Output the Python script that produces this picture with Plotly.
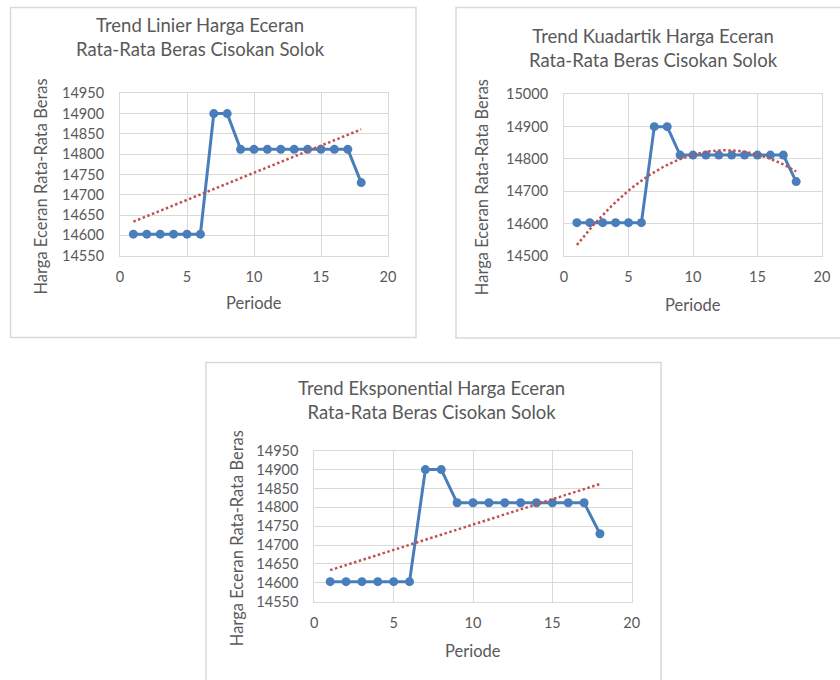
import numpy as np
import plotly.graph_objects as go

# ---------------- data ----------------
periode = list(range(1, 19))
harga = [14603, 14603, 14603, 14603, 14603, 14603, 14900, 14900,
         14812, 14812, 14812, 14812, 14812, 14812, 14812, 14812, 14812, 14730]

titles = [
    "Trend Linier Harga Eceran<br>Rata-Rata Beras Cisokan Solok",
    "Trend Kuadartik Harga Eceran<br>Rata-Rata Beras Cisokan Solok",
    "Trend Eksponential Harga Eceran<br>Rata-Rata Beras Cisokan Solok",
]
y_title = "Harga Eceran Rata-Rata Beras"
x_title = "Periode"
y_ranges = [[14550, 14950], [14500, 15000], [14550, 14950]]
y_dticks = [50, 100, 50]
x_range = [0, 20]

# trend lines (least-squares fits of the data, as the spreadsheet trendlines)
x_arr = np.array(periode, dtype=float)
y_arr = np.array(harga, dtype=float)
lin_c = np.polyfit(x_arr, y_arr, 1)
quad_c = np.polyfit(x_arr, y_arr, 2)
exp_c = np.polyfit(x_arr, np.log(y_arr), 1)
xs = np.linspace(1, 18, 120)
trends = [
    np.polyval(lin_c, xs),
    np.polyval(quad_c, xs),
    np.exp(np.polyval(exp_c, xs)),
]

# ---------------- layout geometry (pixels) ----------------
W, H = 840, 680
plots = [(120, 388, 93.3, 255.7), (564, 822, 94.3, 256), (314.3, 631.7, 450.7, 601.7)]
frames = [(10.5, 416, 7.5, 337.5), (456, 860, 7.5, 338), (206, 661, 362.5, 700)]
title_x = [200, 653, 432]
title_y = [(24, 49), (36, 61), (387, 412)]
ytitle_x = [40, 482, 237]
xtitle_y = [303, 305, 651]

BLUE = "#4A7EBB"
RED = "#C0504D"
GRID = "#D9D9D9"
TXT = "#595959"
FONT = "Lato"

def px(x):
    return x / W

def py(y):
    return 1 - y / H

fig = go.Figure()
shapes = []
annotations = []
for i in range(3):
    ax = "" if i == 0 else str(i + 1)
    l, r, t, b = plots[i]
    fig.add_trace(go.Scatter(
        x=periode, y=harga, mode="lines+markers",
        line=dict(color=BLUE, width=3),
        marker=dict(color=BLUE, size=9),
        xaxis="x" + ax, yaxis="y" + ax, showlegend=False, hoverinfo="x+y"))
    fig.add_trace(go.Scatter(
        x=xs, y=trends[i], mode="lines",
        line=dict(color=RED, width=2.5, dash="2.5px,2.5px"),
        xaxis="x" + ax, yaxis="y" + ax, showlegend=False, hoverinfo="skip"))
    common = dict(showgrid=True, gridcolor=GRID, gridwidth=1, zeroline=False,
                  showline=True, linecolor=GRID, linewidth=1, mirror=True,
                  ticks="", tickformat="d", automargin=False,
                  tickfont=dict(family=FONT, size=14.5, color=TXT))
    fig.update_layout(**{
        "xaxis" + ax: dict(domain=[px(l), px(r)], range=x_range, dtick=5,
                           anchor="y" + ax, ticklabelstandoff=8, **common),
        "yaxis" + ax: dict(domain=[py(b), py(t)], range=y_ranges[i], dtick=y_dticks[i],
                           anchor="x" + ax, ticklabelstandoff=12, **common),
    })
    fl, fr, ft, fb = frames[i]
    shapes.append(dict(type="rect", xref="paper", yref="paper",
                       x0=px(fl), x1=px(fr), y0=py(fb), y1=py(ft),
                       line=dict(color=GRID, width=1.5), layer="below"))
    annotations.append(dict(text=titles[i], xref="paper", yref="paper",
                            x=px(title_x[i]), y=py((title_y[i][0] + title_y[i][1]) / 2),
                            xanchor="center", yanchor="middle", showarrow=False,
                            font=dict(family=FONT, size=18.5, color=TXT)))
    annotations.append(dict(text=y_title, xref="paper", yref="paper",
                            x=px(ytitle_x[i]), y=py((t + b) / 2 + 12), textangle=-90,
                            xanchor="center", yanchor="middle", showarrow=False,
                            font=dict(family=FONT, size=16.5, color=TXT)))
    annotations.append(dict(text=x_title, xref="paper", yref="paper",
                            x=px((l + r) / 2), y=py(xtitle_y[i]),
                            xanchor="center", yanchor="middle", showarrow=False,
                            font=dict(family=FONT, size=16.5, color=TXT)))

fig.update_layout(
    template="none",
    width=W, height=H, margin=dict(l=0, r=0, t=0, b=0, pad=0, autoexpand=False),
    paper_bgcolor="white", plot_bgcolor="white",
    shapes=shapes, annotations=annotations,
    font=dict(family=FONT, color=TXT),
)
fig.write_html(
    "out.html",
    config={"displayModeBar": False},
    post_script=(
        "document.body.style.margin='0';document.body.style.overflow='hidden';"
    ),
)
